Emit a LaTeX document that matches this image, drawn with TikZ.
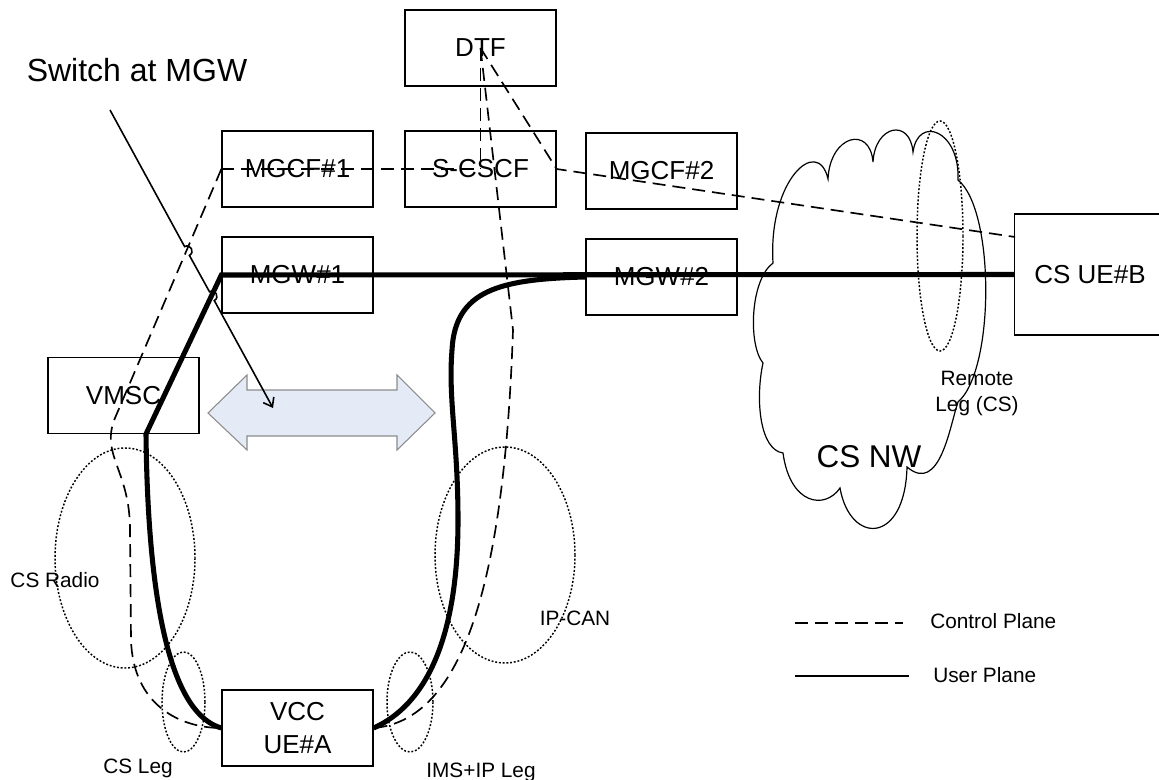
\documentclass[tikz,border=0pt]{standalone}
\usepackage{fontspec}
\setsansfont{Liberation Sans}
\usetikzlibrary{arrows.meta}

\definecolor{handoverfill}{RGB}{228,235,246}
\newcommand{\netboxfont}{\fontsize{19.5}{24.75}\selectfont}
\newcommand{\legfont}{\fontsize{15.6}{19.5}\selectfont}
\newcommand{\switchfont}{\fontsize{24}{28}\selectfont}
\newcommand{\cloudfont}{\fontsize{23.6}{28}\selectfont}

\begin{document}
\begin{tikzpicture}[
    x=0.75pt, y=-0.75pt,
    font=\sffamily,
    % Styles
    net_box/.style={draw, line width=1.2pt, minimum width=113pt, minimum height=57pt, align=center, font=\sffamily\netboxfont},
    ctrl_line/.style={line width=1.25pt, dash pattern=on 9.75pt off 5.25pt},
    user_line/.style={line width=3.8pt},
    leg_ring/.style={line width=1.1pt, dash pattern=on 1.4pt off 1.4pt},
    cloud_line/.style={line width=0.9pt},
    pointer_line/.style={line width=1.2pt, -{Straight Barb[length=6pt, width=9pt]}},
    leg_label/.style={font=\sffamily\legfont, inner sep=0pt, anchor=base}
]
    \useasboundingbox (0,0) rectangle (1159,780);

    % ==========================================
    % 1. NETWORK NODES
    % ==========================================
    \node[net_box] (dtf)   at (480.5,48)  {DTF};
    \node[net_box] (mgcf1) at (297.5,169) {MGCF\#1};
    \node[net_box] (scscf) at (480.5,169) {S-CSCF};
    \node[net_box] (mgcf2) at (661.5,171) {MGCF\#2};
    \node[net_box] (mgw1)  at (297.5,275) {MGW\#1};
    \node[net_box] (mgw2)  at (661.5,277) {MGW\#2};
    \node[net_box] (vmsc)  at (123.5,395.5) {VMSC};
    \node[net_box] (vcca)  at (297.5,728) {VCC\\UE\#A};
    \node[net_box, minimum height=91pt] (csueb) at (1090,274.5) {CS UE\#B};

    \coordinate (ueb_ctrl) at (1015,237);
    \coordinate (vmsc_leg) at (146,434);
    \coordinate (sw_top) at (110,110);
    \coordinate (sw_tip) at (273,408);

    % ==========================================
    % 2. CS NETWORK CLOUD
    % ==========================================
    \draw[cloud_line] (773,263) .. controls (768,180) and (818,135) .. (828,179)
        .. controls (830,135) and (870,125) .. (873,162)
        .. controls (875,125) and (910,118) .. (913,152)
        .. controls (918,115) and (960,130) .. (958,180)
        .. controls (995,210) and (995,370) .. (958,402)
        .. controls (950,425) and (940,495) .. (907,467)
        .. controls (905,545) and (850,545) .. (840,488)
        .. controls (825,510) and (790,505) .. (783,453)
        .. controls (760,450) and (755,400) .. (763,363)
        .. controls (748,345) and (750,280) .. (773,263) -- cycle;
    \node[anchor=base, inner sep=0pt, font=\sffamily\cloudfont] (csnw) at (869,467) {CS NW};

    % ==========================================
    % 3. LEGS (dotted rings)
    % ==========================================
    \draw[leg_ring] (125,558) ellipse [x radius=70, y radius=110];
    \draw[leg_ring] (183.5,702) ellipse [x radius=21.5, y radius=50];
    \draw[leg_ring] (505,555) ellipse [x radius=70, y radius=108];
    \draw[leg_ring] (410,702) ellipse [x radius=23, y radius=50];
    \draw[leg_ring] (940,236) ellipse [x radius=23, y radius=115];

    \node[leg_label] (cs_radio) at (55,587) {CS Radio};
    \node[leg_label] (cs_leg) at (138,773) {CS Leg};
    \node[leg_label] (ims_leg) at (481,777) {IMS+IP Leg};
    \node[leg_label] (ip_can) at (575,625) {IP-CAN};
    \node[leg_label, anchor=center, align=center] (remote_leg) at (977,394) {Remote\\Leg (CS)};

    % ==========================================
    % 4. HANDOVER ARROW
    % ==========================================
    \filldraw[fill=handoverfill, draw=gray!90, line width=0.8pt]
        (208,413) -- (247,375) -- (247,390) -- (397,390) -- (397,375) -- (435,413)
        -- (397,450) -- (397,436) -- (247,436) -- (247,450) -- cycle;

    % ==========================================
    % 5. CONTROL PLANE
    % ==========================================
    \draw[ctrl_line] (mgcf1.west) -- (scscf.center);
    \draw[ctrl_line] (dtf.center) -- (scscf.center);
    \draw[ctrl_line] (dtf.center) -- (scscf.east) -- (ueb_ctrl);
    \draw[ctrl_line] (dtf.center) -- (513,330) .. controls (505,560) and (470,720) .. (vcca.east);
    \draw[ctrl_line] (mgcf1.west) -- (115,418) .. controls (100,455) and (130,470) .. (130,530)
        -- (131,640) .. controls (133,705) and (180,728) .. (vcca.west);

    % ==========================================
    % 6. USER PLANE
    % ==========================================
    \draw[user_line] (vcca.west) .. controls (175,715) and (148,620) .. (vmsc_leg)
        -- (mgw1.west) -- (csueb.west);
    \draw[user_line] (vcca.east) .. controls (425,705) and (458,640) .. (458,520)
        .. controls (458,440) and (448,400) .. (452,350)
        .. controls (455,290) and (500,279) .. (mgw2.west);

    % ==========================================
    % 7. SWITCH POINTER (with line hops)
    % ==========================================
    \node[anchor=base, inner sep=0pt, font=\sffamily\switchfont] (sw_lbl) at (137,82) {Switch at MGW};
    \draw[pointer_line] (sw_top) -- (184.6,246.6) .. controls (190.45,243.4) and (195.25,252.2) .. (189.4,255.4)
        -- (209.5,291.8) .. controls (215.35,288.6) and (220.15,297.4) .. (214.3,300.6) -- (sw_tip);

    % ==========================================
    % 8. LEGEND
    % ==========================================
    \draw[ctrl_line] (795,623) -- (903,623);
    \node[leg_label, anchor=base west] (lg_ctrl) at (930,628) {Control Plane};
    \draw[line width=1.25pt] (795,676) -- (909,676);
    \node[leg_label, anchor=base west] (lg_user) at (933,682) {User Plane};

\end{tikzpicture}
\end{document}
